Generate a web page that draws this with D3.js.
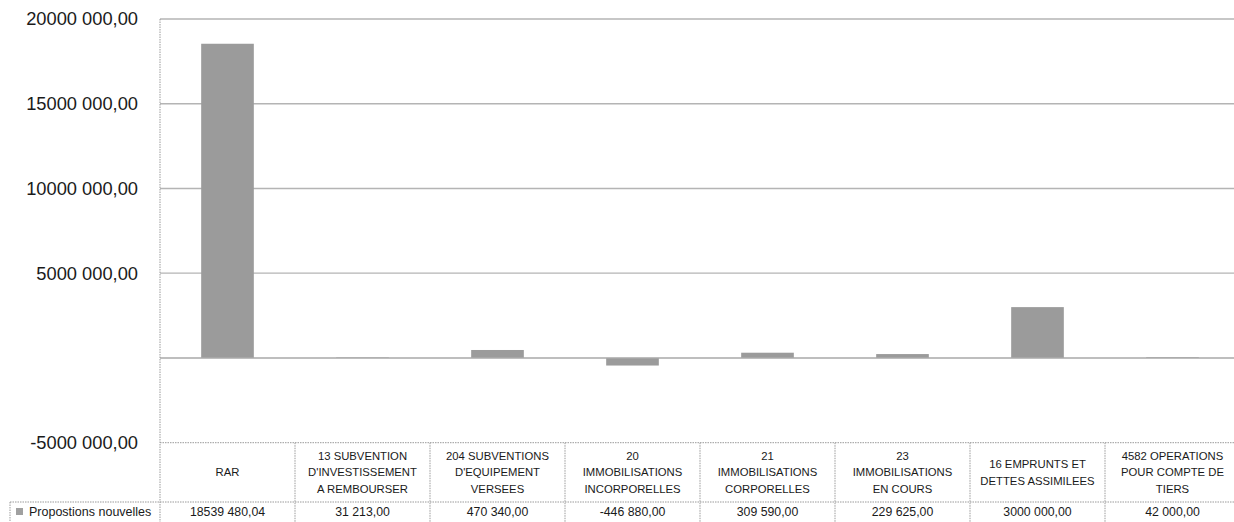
<!DOCTYPE html>
<html>
<head>
<meta charset="utf-8">
<script src="https://cdn.jsdelivr.net/npm/d3@7"></script>
<style>
  html, body { margin: 0; padding: 0; background: #fff; }
  svg { display: block; }
  text { font-family: "Liberation Sans", Arial, sans-serif; fill: #1a1a1a; }
</style>
</head>
<body>
<svg id="chart" width="1234" height="522"></svg>
<script>
// Category labels (one entry per line of the data-table header)
const categories = [
  ["RAR"],
  ["13 SUBVENTION", "D'INVESTISSEMENT", "A REMBOURSER"],
  ["204 SUBVENTIONS", "D'EQUIPEMENT", "VERSEES"],
  ["20", "IMMOBILISATIONS", "INCORPORELLES"],
  ["21", "IMMOBILISATIONS", "CORPORELLES"],
  ["23", "IMMOBILISATIONS", "EN COURS"],
  ["16 EMPRUNTS ET", "DETTES ASSIMILEES"],
  ["4582  OPERATIONS", "POUR COMPTE DE", "TIERS"]
];
const seriesName = "Propostions nouvelles";
const values = [18539480.04, 31213, 470340, -446880, 309590, 229625, 3000000, 42000];
const tickValues = [20000000, 15000000, 10000000, 5000000, 0, -5000000];

// Number format: two decimals with a comma, space before the last three integer digits
function fmt(v) {
  if (v === 0) return "";
  const neg = v < 0;
  const s = Math.abs(v).toFixed(2);
  let [intPart, dec] = s.split(".");
  if (intPart.length > 3) intPart = intPart.slice(0, -3) + " " + intPart.slice(-3);
  return (neg ? "-" : "") + intPart + "," + dec;
}

const svg = d3.select("#chart");
const left = 160, right = 1240;
const yTop = 19, yBottom = 442.7;
const tableBottom = 502, svgH = 522;

const y = d3.scaleLinear().domain([-5000000, 20000000]).range([yBottom, yTop]);
const x = d3.scaleBand().domain(d3.range(categories.length)).range([left, right]).paddingInner(0).paddingOuter(0);
const barW = x.bandwidth() * 0.39;

// horizontal gridlines
svg.append("g").selectAll("line")
  .data(tickValues.filter(t => t > 0))
  .join("line")
  .attr("x1", left).attr("x2", 1234)
  .attr("y1", d => y(d)).attr("y2", d => y(d))
  .attr("stroke", "#b4b4b4").attr("stroke-width", 1.3);

// y-axis tick labels
const yAxis = d3.axisLeft(y).tickValues(tickValues).tickSize(0).tickPadding(22).tickFormat(fmt);
const ya = svg.append("g").attr("transform", `translate(${left},0)`).call(yAxis);
ya.select(".domain").remove();
ya.selectAll("text").attr("font-size", 18.3).attr("fill", "#1a1a1a")
  .style("font-family", '"Liberation Sans", Arial, sans-serif');

// bars
svg.append("g").selectAll("rect")
  .data(values)
  .join("rect")
  .attr("x", (d, i) => x(i) + (x.bandwidth() - barW) / 2)
  .attr("width", barW)
  .attr("y", d => y(Math.max(0, d)))
  .attr("height", d => Math.abs(y(d) - y(0)))
  .attr("fill", "#9b9b9b");

// zero line
svg.append("line")
  .attr("x1", left).attr("x2", 1234)
  .attr("y1", y(0)).attr("y2", y(0))
  .attr("stroke", "#a8a8a8").attr("stroke-width", 1.5);

// data table borders
const dotted = "1.5,1";
const tbl = svg.append("g").attr("stroke", "#9a9a9a").attr("stroke-width", 1);
tbl.append("line").attr("x1", left).attr("x2", 1234).attr("y1", yBottom).attr("y2", yBottom)
  .attr("stroke-dasharray", dotted);
tbl.append("line").attr("x1", 10).attr("x2", 1234).attr("y1", tableBottom).attr("y2", tableBottom)
  .attr("stroke-dasharray", dotted);
// left axis line (plot + table)
tbl.append("line").attr("x1", left).attr("x2", left).attr("y1", yTop).attr("y2", svgH)
  .attr("stroke-dasharray", dotted);
// column separators
tbl.selectAll("line.col")
  .data(d3.range(1, categories.length))
  .join("line").attr("class", "col")
  .attr("x1", i => x(i)).attr("x2", i => x(i))
  .attr("y1", yBottom).attr("y2", svgH)
  .attr("stroke-dasharray", dotted);
// legend cell left border
tbl.append("line").attr("x1", 10).attr("x2", 10).attr("y1", tableBottom).attr("y2", svgH)
  .attr("stroke-dasharray", dotted);

// category header text
const lineH = 16.5;
const headerMid = (yBottom + tableBottom) / 2 + 1;
const hg = svg.append("g");
categories.forEach((lines, i) => {
  const cx = x(i) + x.bandwidth() / 2;
  const t = hg.append("text")
    .attr("text-anchor", "middle")
    .attr("font-size", 11.3)
    .attr("dominant-baseline", "middle");
  lines.forEach((ln, k) => {
    t.append("tspan")
      .attr("x", cx)
      .attr("y", headerMid + (k - (lines.length - 1) / 2) * lineH)
      .text(ln);
  });
});

// values row
svg.append("g").selectAll("text")
  .data(values)
  .join("text")
  .attr("x", (d, i) => x(i) + x.bandwidth() / 2)
  .attr("y", (tableBottom + svgH) / 2 + 1)
  .attr("text-anchor", "middle")
  .attr("dominant-baseline", "middle")
  .attr("font-size", 12.3)
  .text(d => fmt(d));

// legend key in the table
svg.append("rect").attr("x", 16).attr("y", 508).attr("width", 7).attr("height", 7).attr("fill", "#a0a0a0");
svg.append("text").attr("x", 29).attr("y", (tableBottom + svgH) / 2 + 1)
  .attr("dominant-baseline", "middle").attr("font-size", 12.5)
  .text(seriesName);
</script>
</body>
</html>
